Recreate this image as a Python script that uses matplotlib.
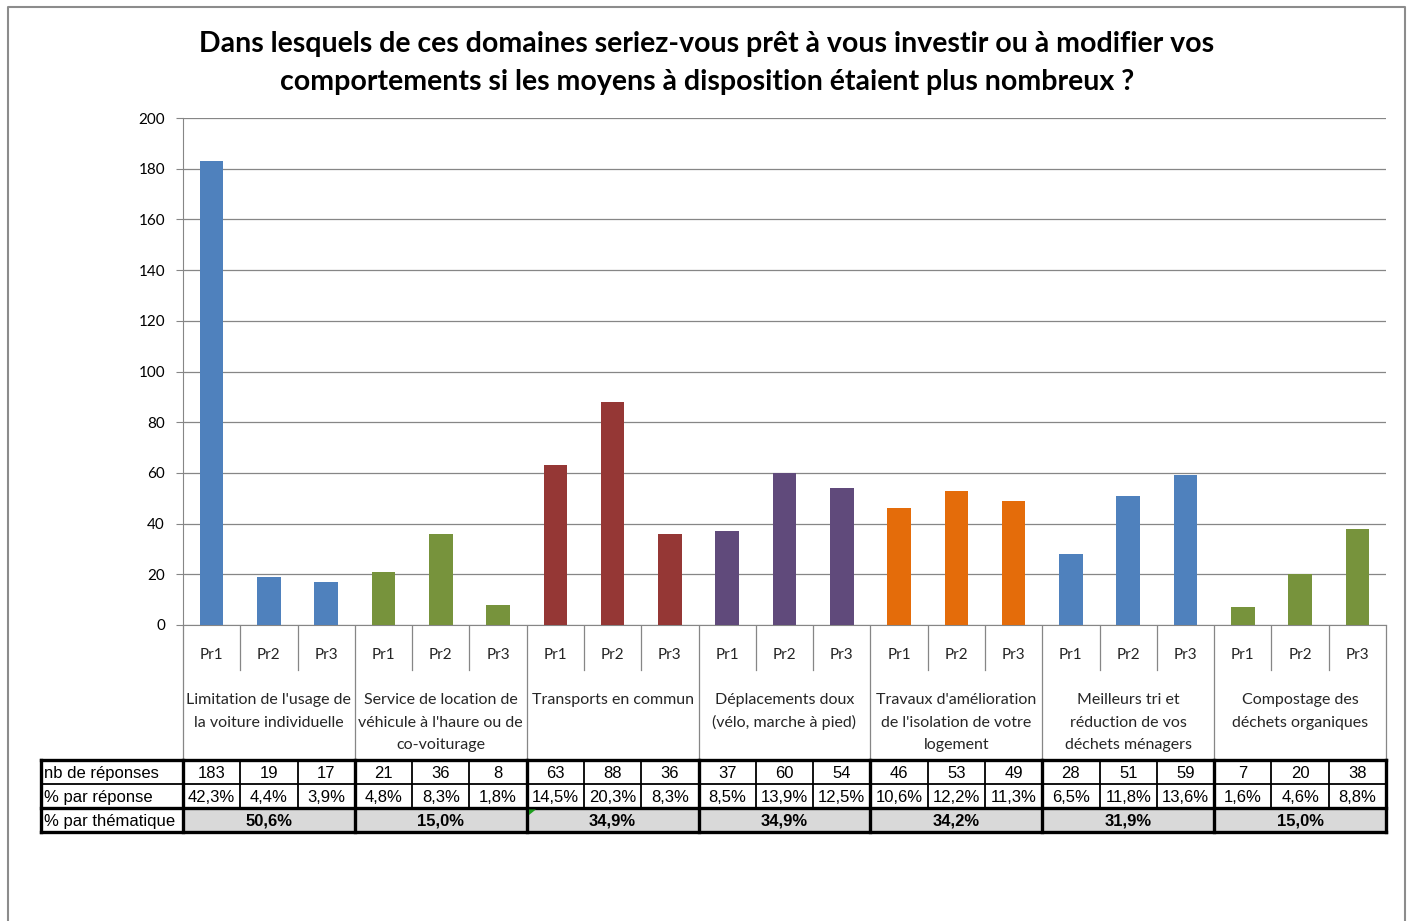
import matplotlib
matplotlib.use("Agg")
import matplotlib.pyplot as plt
from matplotlib.patches import Rectangle, Polygon
from matplotlib.transforms import blended_transform_factory

TITLE = ("Dans lesquels de ces domaines seriez-vous prêt à vous investir ou à modifier vos\n"
         "comportements si les moyens à disposition étaient plus nombreux ?")

GROUPS = [
    "Limitation de l'usage de\nla voiture individuelle",
    "Service de location de\nvéhicule à l'haure ou de\nco-voiturage",
    "Transports en commun",
    "Déplacements doux\n(vélo, marche à pied)",
    "Travaux d'amélioration\nde l'isolation de votre\nlogement",
    "Meilleurs tri et\nréduction de vos\ndéchets ménagers",
    "Compostage des\ndéchets organiques",
]
SUBLABELS = ["Pr1", "Pr2", "Pr3"]
COUNTS = [183, 19, 17, 21, 36, 8, 63, 88, 36, 37, 60, 54, 46, 53, 49, 28, 51, 59, 7, 20, 38]
PCT_RESP = ["42,3%", "4,4%", "3,9%", "4,8%", "8,3%", "1,8%", "14,5%", "20,3%", "8,3%",
            "8,5%", "13,9%", "12,5%", "10,6%", "12,2%", "11,3%", "6,5%", "11,8%", "13,6%",
            "1,6%", "4,6%", "8,8%"]
PCT_THEME = ["50,6%", "15,0%", "34,9%", "34,9%", "34,2%", "31,9%", "15,0%"]
ROW_LABELS = ["nb de réponses", "% par réponse", "% par thématique"]
GROUP_COLORS = ["#4F81BD", "#77933C", "#953735", "#604A7B", "#E46C0A", "#4F81BD", "#77933C"]

W, H = 1413, 921
fig = plt.figure(figsize=(W / 100, H / 100), dpi=100)

# overlay axes in pixel coordinates (y down) for frame / table rows
ov = fig.add_axes([0, 0, 1, 1])
ov.set_xlim(0, W)
ov.set_ylim(H, 0)
ov.axis("off")

x0, x1, y0, y1 = 183, 1386, 625, 118
ax = fig.add_axes([x0 / W, 1 - y0 / H, (x1 - x0) / W, (y0 - y1) / H])
n = len(COUNTS)
xs = list(range(n))
colors = [GROUP_COLORS[i // 3] for i in xs]
ax.bar(xs, COUNTS, width=0.41, color=colors, zorder=3)
ax.set_xlim(-0.5, n - 0.5)
ax.set_ylim(0, 200)
ax.set_yticks(range(0, 201, 20))
ax.tick_params(axis="y", labelsize=11, length=5, color="#868686", pad=8)
ax.tick_params(axis="x", bottom=False, labelbottom=False)
ax.grid(axis="y", color="#868686", lw=0.9, zorder=0)
for s in ["top", "right"]:
    ax.spines[s].set_visible(False)
for s in ["left", "bottom"]:
    ax.spines[s].set_color("#868686")
for lab in ax.get_yticklabels():
    lab.set_fontfamily("Lato")

tr = blended_transform_factory(ax.transData, ov.transData)
grey = "#868686"

# category axis labels and separators
for i in xs:
    ax.text(i, 655, SUBLABELS[i % 3], transform=tr, ha="center", va="center",
            fontsize=11, family="Lato", color="#262626")
for b in range(n + 1):
    xb = b - 0.5
    y_end = 758 if b % 3 == 0 else 670
    ov.plot([xb, xb], [625, y_end], transform=tr, color=grey, lw=0.9, clip_on=False)
for g, name in enumerate(GROUPS):
    for k, line in enumerate(name.split("\n")):
        ax.text(3 * g + 1, 700 + 22.5 * k, line, transform=tr, ha="center", va="center",
                fontsize=11.5, family="Lato", color="#262626")

# data table
rows = [760, 784, 808, 832]
first_left = -2.98
tfont = dict(family="Liberation Sans", fontsize=12, color="black")
for r in range(3):
    ytop, ybot = rows[r], rows[r + 1]
    ax.text(first_left + 0.05, (ytop + ybot) / 2 + 1, ROW_LABELS[r], transform=tr,
            ha="left", va="center", **tfont)
for i in xs:
    ax.text(i, 772 + 1, str(COUNTS[i]), transform=tr, ha="center", va="center", **tfont)
    ax.text(i, 796 + 1, PCT_RESP[i], transform=tr, ha="center", va="center", **tfont)
for g in range(len(GROUPS)):
    ov.add_patch(Rectangle((3 * g - 0.5, 808), 3, 24, transform=tr,
                           facecolor="#D9D9D9", edgecolor="none", zorder=1))
    ax.text(3 * g + 1, 820 + 1, PCT_THEME[g], transform=tr, ha="center", va="center",
            fontweight="bold", **tfont)

# thin inner lines
for b in range(n + 1):
    if b % 3:
        ov.plot([b - 0.5, b - 0.5], [760, 808], transform=tr, color="black", lw=1.3, zorder=2)
ov.plot([first_left, n - 0.5], [784, 784], transform=tr, color="black", lw=1.3, zorder=2)
# thick lines
for yy in [760, 808, 832]:
    ov.plot([first_left, n - 0.5], [yy, yy], transform=tr, color="black", lw=2.4, zorder=3)
ov.plot([first_left, first_left], [760, 832], transform=tr, color="black", lw=2.4, zorder=3)
for b in range(0, n + 1, 3):
    ov.plot([b - 0.5, b - 0.5], [760, 832], transform=tr, color="black", lw=2.4, zorder=3)

# little excel marker
ov.add_patch(Polygon([(5.54, 809.5), (5.66, 809.5), (5.54, 815)], closed=True,
                     transform=tr, facecolor="#1E9E1E", edgecolor="none", zorder=5))

# outer frame
ov.plot([8, 8, 1405, 1405], [H + 5, 7, 7, H + 5], color="#8C8C8C", lw=1.5, clip_on=False)

fig.text(707 / W, 1 - 63 / H, TITLE, ha="center", va="center", fontsize=20.5,
         fontweight="bold", family="Lato", linespacing=1.58)

fig.savefig("out.png", dpi=100)
